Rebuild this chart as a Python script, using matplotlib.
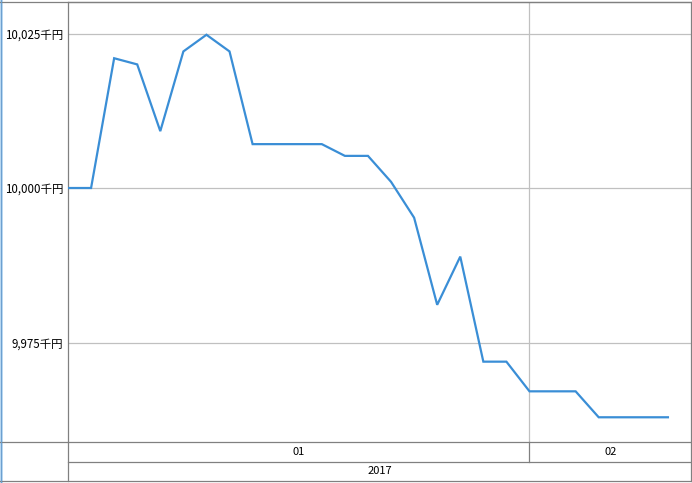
import numpy as np
import matplotlib
matplotlib.use('Agg')
import matplotlib.pyplot as plt
from matplotlib.lines import Line2D
from matplotlib.patches import Rectangle

plt.rcParams['font.family'] = ['Noto Sans CJK JP', 'DejaVu Sans']

# --------------------- DATA -------------------------------------------------
values = [10000.0, 10000.0, 10021.0, 10020.0, 10009.2, 10022.1, 10024.8, 10022.1,
          10007.1, 10007.1, 10007.1, 10007.1, 10005.2, 10005.2, 10001.0, 9995.2,
          9981.1, 9988.9, 9971.9, 9971.9, 9967.1, 9967.1, 9967.1, 9962.9,
          9962.9, 9962.9, 9962.9]
y_ticks = [9975, 10000, 10025]
months = ['01', '02']
month_starts = [0, 20]     # index of first point in each month
n_slots = 27
year_label = '2017'

# --------------------- LAYOUT -------------------------------------------------
W, H = 692, 483
fig = plt.figure(figsize=(W / 100, H / 100), dpi=100)
fig.patch.set_facecolor('white')

border = '#808080'
grid = '#c0c0c0'

def fx(px):
    return px / W

def fy(py):
    return 1 - py / H

left, right, top, bottom, rows_bottom = 68, 691, 2, 442, 481

ax = fig.add_axes([fx(left), fy(bottom), fx(right - left), fy(top) - fy(bottom)])
x = np.arange(len(values))
ax.plot(x, values, color='#3a8ed6', linewidth=1.6, solid_joinstyle='miter', zorder=3)
ax.set_xlim(0, n_slots)
ax.set_ylim(9958.9, 10030.1)
ax.set_yticks(y_ticks)
ax.set_yticklabels([f'{v:,}千円' for v in y_ticks], fontsize=8.3)
ax.set_xticks([])
ax.tick_params(axis='y', length=0, pad=3.5)
for yv in y_ticks:
    ax.axhline(yv, color=grid, linewidth=0.9, zorder=1)
for ms in month_starts[1:]:
    ax.axvline(ms, color=grid, linewidth=0.9, zorder=1)
for s in ['left', 'top', 'right']:
    ax.spines[s].set_color(border)
    ax.spines[s].set_linewidth(0.9)
ax.spines['bottom'].set_visible(False)

# bottom header rows (month / year)
bx = fig.add_axes([fx(left), fy(rows_bottom), fx(right - left), fy(bottom) - fy(rows_bottom)])
bx.set_xlim(0, n_slots)
bx.set_ylim(0, 2)
bx.axis('off')
bx.plot([0, n_slots], [1, 1], color=border, linewidth=0.9, clip_on=False)
bx.plot([0, 0], [0, 2], color=border, linewidth=0.9, clip_on=False)
bx.plot([n_slots, n_slots], [0, 2], color=border, linewidth=0.9, clip_on=False)
bounds = month_starts + [n_slots]
for i, m in enumerate(months):
    if i > 0:
        bx.plot([bounds[i], bounds[i]], [1, 2], color=border, linewidth=0.9, clip_on=False)
    bx.text((bounds[i] + bounds[i + 1]) / 2, 1.5, m, ha='center', va='center', fontsize=8)
bx.text(n_slots / 2, 0.5, year_label, ha='center', va='center', fontsize=8)

# full-width horizontal lines and outer frame
for py in [bottom, rows_bottom]:
    fig.add_artist(Line2D([0, 1], [fy(py), fy(py)], color=border, linewidth=0.9))
fig.add_artist(Line2D([0, 1], [fy(top), fy(top)], color=border, linewidth=0.9))
fig.add_artist(Rectangle((0, 0), fx(3), 1, facecolor='#b9d7f0', edgecolor='none'))
fig.add_artist(Line2D([fx(1.5), fx(1.5)], [0, 1], color='#6a9fcf', linewidth=0.7))

fig.savefig('out.png', dpi=100)
